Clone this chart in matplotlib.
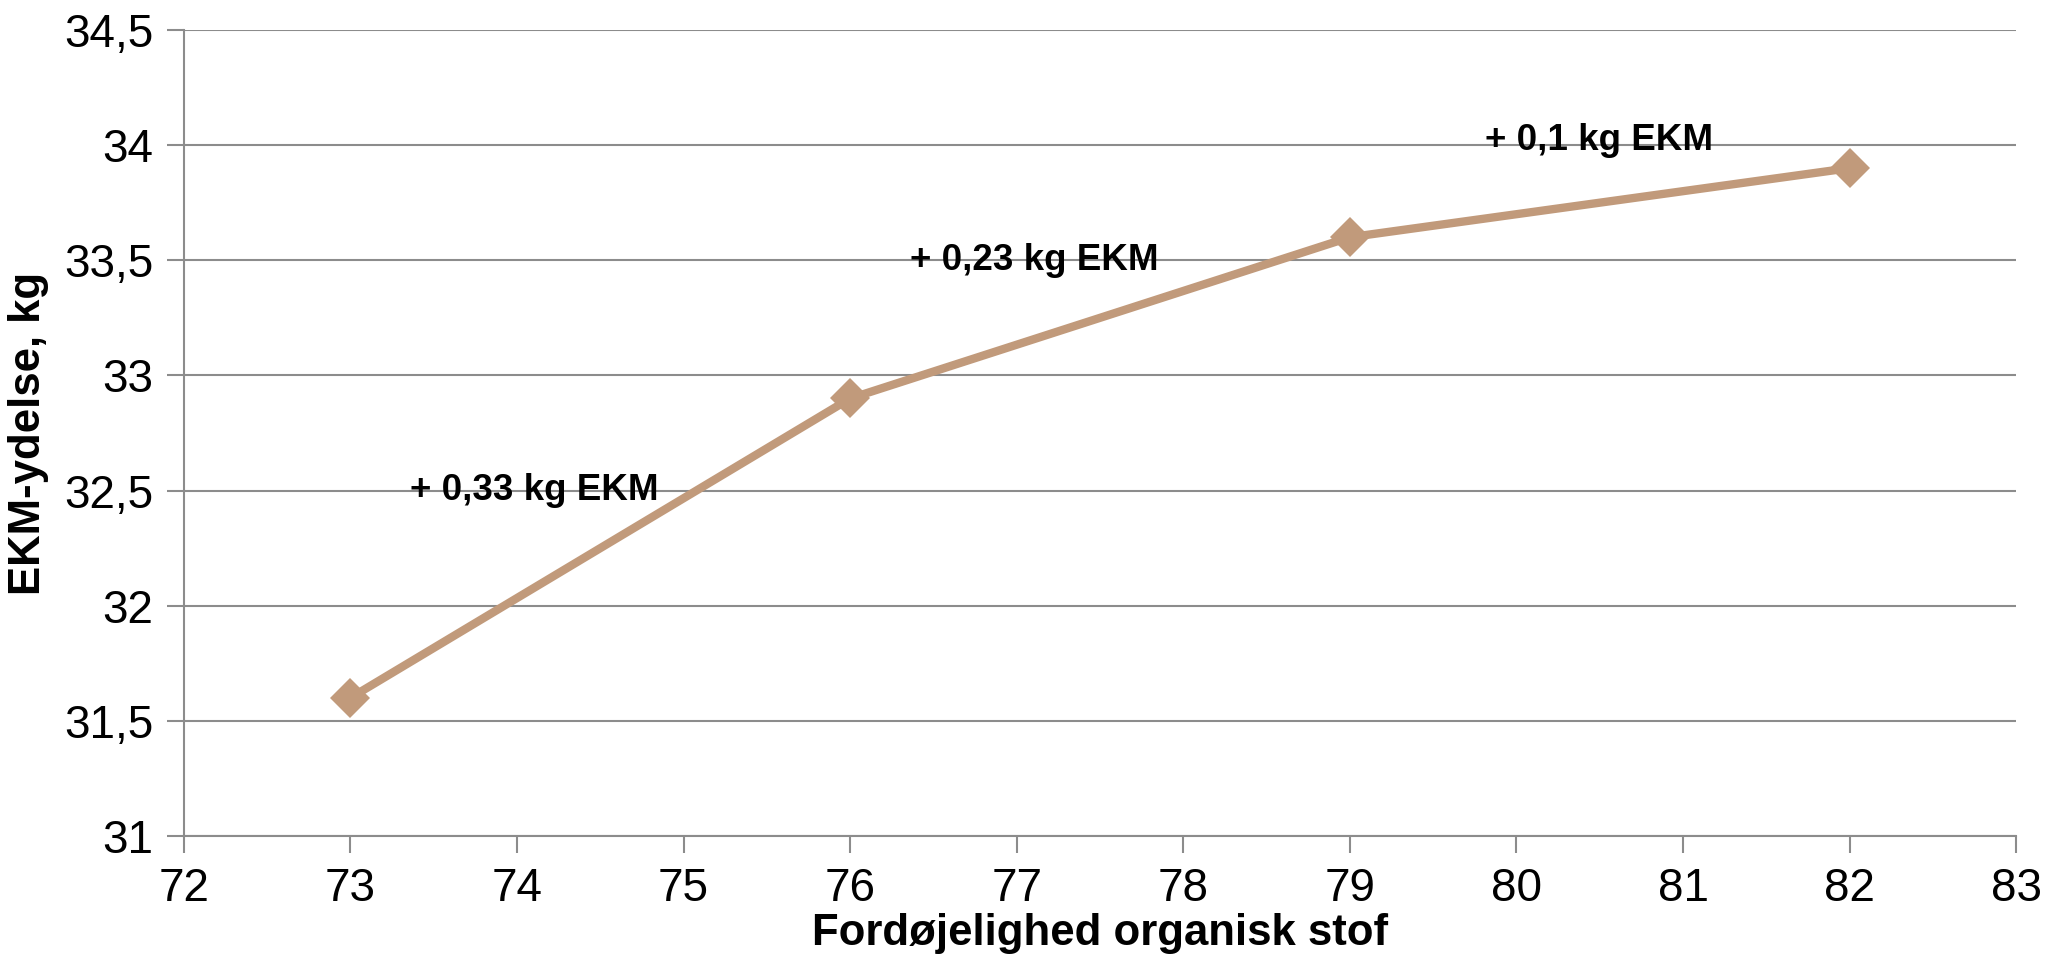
import matplotlib
matplotlib.use("Agg")
import matplotlib.pyplot as plt
from matplotlib.ticker import FuncFormatter, MultipleLocator

plt.rcParams["font.family"] = ["Liberation Sans", "DejaVu Sans"]

# data
fordoejelighed = [73, 76, 79, 82]
ekm_ydelse = [31.6, 32.9, 33.6, 33.9]
notes = ["+ 0,33 kg EKM", "+ 0,23 kg EKM", "+ 0,1 kg EKM"]
note_x = [73.36, 76.36, 79.81]
note_y = [32.5, 33.5, 34.02]

line_color = "#C19A7B"
grid_color = "#8C8C8C"

fig = plt.figure(figsize=(20.46, 9.67), dpi=100)
ax = fig.add_axes([0.0899, 0.1355, 0.8955, 0.8335])

ax.plot(fordoejelighed, ekm_ydelse, color=line_color, lw=6, marker="D",
        markersize=20, markeredgewidth=0, zorder=3)

for txt, x, y in zip(notes, note_x, note_y):
    ax.text(x, y, txt, fontsize=26.5, fontweight="bold", ha="left", va="center", zorder=4)

ax.set_xlim(72, 83)
ax.set_ylim(31, 34.5)
ax.xaxis.set_major_locator(MultipleLocator(1))
ax.yaxis.set_major_locator(MultipleLocator(0.5))
ax.yaxis.set_major_formatter(FuncFormatter(lambda v, p: ("%g" % v).replace(".", ",")))

ax.grid(axis="y", color=grid_color, lw=1.5)
ax.set_axisbelow(True)
for s in ["top", "right"]:
    ax.spines[s].set_visible(False)
for s in ["left", "bottom"]:
    ax.spines[s].set_color(grid_color)
    ax.spines[s].set_linewidth(1.5)
ax.tick_params(axis="both", direction="out", length=12, width=1.5, color=grid_color,
               labelsize=33, pad=10)

ax.set_xlabel("Fordøjelighed organisk stof", fontsize=31.5, fontweight="bold", labelpad=2)
ax.set_ylabel("EKM-ydelse, kg", fontsize=31.5, fontweight="bold", labelpad=11)

fig.savefig("out.png", dpi=100)
